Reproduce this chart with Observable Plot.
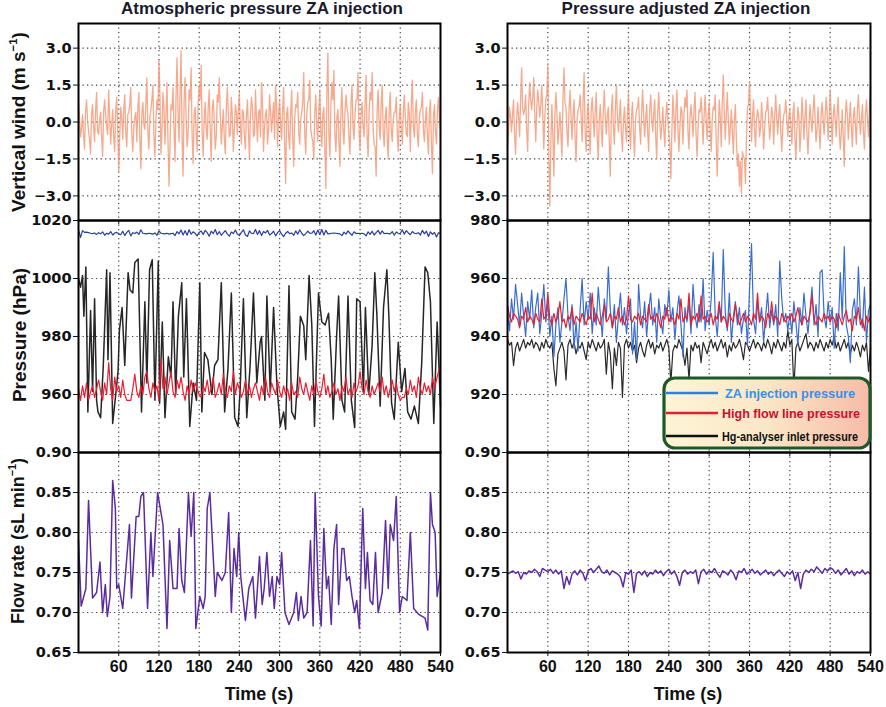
<!DOCTYPE html>
<html><head><meta charset="utf-8">
<script src="https://cdn.jsdelivr.net/npm/d3@7"></script>
<script src="https://cdn.jsdelivr.net/npm/@observablehq/plot@0.6"></script>
<style>
body{margin:0;background:#fff;}
#root{position:relative;width:886px;height:707px;background:#fff;overflow:hidden;font-family:"Liberation Sans",Arial,sans-serif;}
.title{position:absolute;top:0;font-weight:bold;font-size:17px;line-height:18px;color:#1a1a2e;white-space:nowrap;transform:translate(-50%,0);}
.ylab{position:absolute;font-weight:bold;font-size:19px;line-height:20px;color:#111;white-space:nowrap;transform:translate(-50%,-50%) rotate(-90deg);}
.ylab sup{font-size:0.6em;vertical-align:0.7em;line-height:0;}
.xlab{position:absolute;top:685px;font-weight:bold;font-size:18px;line-height:18px;color:#111;white-space:nowrap;transform:translate(-50%,0);}
</style></head>
<body><div id="root">
<div class="title" style="left:262px">Atmospheric pressure ZA injection</div>
<div class="title" style="left:686px">Pressure adjusted ZA injection</div>
<div class="ylab" style="left:19px;top:122px">Vertical wind (m s<sup>−1</sup>)</div>
<div class="ylab" style="left:20px;top:335px">Pressure (hPa)</div>
<div class="ylab" style="left:18px;top:541px;font-size:18px">Flow rate (sL min<sup>−1</sup>)</div>
<div class="xlab" style="left:259px">Time (s)</div>
<div class="xlab" style="left:688px">Time (s)</div>
</div>
<script>
// ---------- data ----------
const xTicks = [60,120,180,240,300,360,420,480,540];
const xGrid = [60,120,180,240,300,360,420,480];
const windTicks = [-3,-1.5,0,1.5,3];
const presLTicks = [960,980,1000,1020];
const presRTicks = [920,940,960,980];
const flowTicks = [0.65,0.70,0.75,0.80,0.85,0.90];

// vertical wind: samples at t = 0,3,...,540 and in-between samples at t = 1.5,4.5,...,538.5
const windLeft = [
0.8,-0.6,0.3,-1.1,0.9,-0.4,-1.3,0.7,-0.8,1.2,-0.5,0.4,-1.4,0.9,-0.2,1.3,-0.9,0.5,-1.2,1.0,
-2.0,0.6,-0.7,1.1,-1.0,0.4,1.4,-1.2,0.2,-0.8,1.2,-1.9,0.8,-0.3,1.8,-1.1,0.5,1.5,-1.4,0.9,
2.5,-1.3,1.2,-0.9,1.6,-2.6,0.7,1.4,-1.6,2.6,-0.8,2.9,-2.2,1.8,-1.0,1.3,2.2,-1.7,0.6,-1.2,
1.5,2.3,-1.4,0.8,-0.7,1.3,-1.6,0.9,-1.1,1.1,1.8,-0.9,0.5,-1.3,1.4,-0.6,1.0,-1.2,0.7,-0.5,
1.2,-0.9,0.4,-1.1,0.9,-1.5,1.0,-0.6,1.3,-0.8,0.5,1.6,-1.2,0.3,-0.9,1.1,-0.4,0.8,1.5,-1.0,
0.9,-0.7,1.4,-2.5,0.6,-1.1,1.3,-1.8,0.7,1.2,-0.9,0.4,2.0,-1.3,0.8,1.7,-0.6,-1.5,1.1,-0.8,
1.3,-1.0,0.6,-2.7,2.8,-1.4,1.6,2.1,-1.2,0.5,-1.8,1.4,-0.9,1.1,0.3,-1.3,1.5,-0.7,0.9,2.0,
-1.1,0.8,-0.6,1.9,-1.4,1.2,2.0,-0.9,-2.2,1.3,-0.7,1.5,-1.0,0.6,-1.5,1.2,-0.8,0.4,1.0,-1.2,
0.7,-0.9,1.1,-0.5,0.8,-1.2,1.7,-0.6,0.9,-1.0,0.5,1.2,-0.8,0.6,-1.3,0.9,-2.1,0.7,-0.9,1.0,
-0.3];
const windLeftMid = [
0.2,-0.3,-0.5,0.4,0.1,-0.7,0.3,-0.2,0.5,-0.4,0.1,-0.6,0.4,0.3,-0.5,0.2,-0.1,-0.6,0.5,-0.3,
-0.6,0.2,0.5,-0.4,0.3,0.7,-0.5,-0.2,0.4,0.6,-0.7,0.3,-0.1,0.8,-0.4,0.2,0.9,-0.6,0.1,0.5,
1.0,-0.4,0.6,0.3,-0.8,-0.9,0.5,-0.3,1.1,0.4,1.2,-0.7,0.8,0.2,-0.5,0.9,-0.6,0.3,-0.4,0.7,
0.9,-0.5,0.2,-0.3,0.6,-0.4,0.5,0.1,-0.6,0.8,0.4,-0.2,-0.7,0.6,0.3,-0.5,0.2,-0.3,0.4,0.6,
-0.3,0.5,-0.6,0.2,-0.4,0.3,0.6,-0.5,0.1,0.4,-0.6,0.7,-0.2,0.5,-0.3,0.4,0.2,-0.7,0.6,0.3,
-0.2,0.5,-0.9,0.3,-0.6,0.4,-0.7,0.2,0.6,-0.4,0.1,0.8,-0.5,0.3,0.9,-0.3,-0.8,0.4,-0.2,0.5,
-0.4,0.3,-1.1,1.2,-0.5,0.7,0.9,-0.6,0.2,-0.8,0.5,-0.3,0.4,0.6,-0.7,0.8,-0.2,0.3,0.9,-0.4,
0.3,-0.2,0.8,-0.6,0.4,0.9,-0.3,-1.0,0.5,-0.2,0.7,-0.4,0.2,-0.7,0.5,-0.3,0.1,0.4,-0.5,0.2,
-0.3,0.4,0.2,-0.6,0.3,0.7,-0.2,0.4,-0.5,0.2,0.6,-0.3,0.1,-0.6,0.4,-0.9,0.2,-0.4,0.5,0.1];
const windRight = [
-1.0,0.6,-0.4,0.9,-1.3,0.8,-0.6,2.2,0.3,1.1,-1.2,1.6,0.5,1.8,-0.8,1.3,0.2,1.5,-1.1,0.9,
2.3,-3.4,0.7,-2.2,1.2,-0.9,0.4,-1.4,2.2,0.6,-1.0,1.3,-0.7,0.9,-1.6,0.5,1.1,-0.8,2.0,-1.2,
0.8,-1.3,1.0,-0.6,1.2,-1.5,0.7,-1.0,1.3,-0.5,0.6,-2.2,1.1,-0.9,1.5,-0.4,0.9,-1.2,0.6,-0.8,
1.2,-1.1,0.8,-1.4,0.5,1.0,-0.9,1.3,-0.6,0.7,-1.2,1.1,-0.4,0.9,-1.5,1.2,-0.7,0.6,-1.0,0.8,
-0.5,-2.3,1.1,-0.8,1.3,-1.2,0.6,-0.9,1.0,1.3,-1.1,0.7,-0.6,1.2,-1.4,0.5,1.0,-0.9,1.1,-0.7,
0.8,-1.2,0.6,1.1,-2.2,0.9,-1.0,1.9,-0.7,1.2,-0.9,0.5,-1.3,0.7,-1.8,-2.6,-2.9,-1.4,-2.5,0.6,
1.6,-0.8,0.9,-1.0,0.5,-0.6,0.8,-1.1,0.4,1.0,-0.7,0.6,-0.9,1.1,-0.5,0.7,-1.2,0.3,0.9,-0.6,
0.5,-0.9,0.8,-1.5,0.6,-1.2,1.0,-0.7,0.9,-1.3,0.7,-0.4,1.1,-0.8,0.6,-1.1,0.8,-0.5,1.0,-0.7,
1.3,-0.9,0.7,-0.6,1.0,-1.1,0.5,-1.8,0.9,-0.7,0.8,-1.0,0.6,-0.9,1.1,-0.5,0.7,-1.1,0.9,-0.6,
1.4];
const windRightMid = [
-0.4,0.2,0.3,-0.5,0.1,0.2,0.9,0.6,0.5,-0.3,0.7,0.9,1.0,0.4,0.6,0.8,0.7,0.3,0.2,1.1,
-1.2,-0.8,-0.6,0.3,0.4,-0.3,-0.5,0.9,0.8,-0.4,0.5,0.2,0.3,-0.6,0.1,0.6,0.2,0.9,-0.4,0.3,
-0.4,0.5,0.2,0.4,-0.6,0.1,-0.3,0.5,0.2,0.3,-0.9,0.4,-0.2,0.6,0.3,0.2,-0.5,0.1,-0.2,0.4,
-0.3,0.2,-0.5,0.1,0.6,-0.2,0.4,0.3,0.1,-0.4,0.5,0.2,0.3,-0.6,0.4,0.1,-0.2,-0.3,0.2,0.1,
-0.9,-0.4,0.3,0.5,-0.3,-0.2,0.4,0.3,0.6,-0.4,0.2,0.1,0.5,-0.5,-0.2,0.4,0.2,0.3,0.1,0.2,
-0.3,0.1,0.5,-0.8,-0.4,0.2,0.8,0.4,0.3,0.1,-0.2,-0.4,0.1,-0.7,-1.3,-1.6,-1.2,-1.5,-0.6,0.7,
0.4,0.2,-0.3,0.1,0.2,-0.2,0.1,-0.3,0.5,0.1,-0.1,0.3,0.2,0.1,0.3,-0.4,-0.2,0.4,0.1,0.2,
-0.2,0.3,-0.6,-0.3,0.2,-0.4,0.3,0.2,-0.5,-0.2,0.1,0.4,0.2,-0.3,-0.2,0.3,0.1,0.2,0.4,0.1,
0.3,0.2,0.1,0.4,-0.3,-0.5,-0.6,0.2,0.3,0.1,-0.2,0.2,-0.1,0.5,0.2,0.1,-0.4,0.3,0.1,0.6];

// left pressure (hPa), 3 s sampling
const zaLeft = [
1016.8,1014.2,1016.5,1015.9,1016.0,1015.8,1015.6,1015.5,1015.7,1015.2,1015.8,1015.4,1016.1,1014.9,1015.6,1015.3,1016.2,1015.0,1015.7,1015.9,
1015.4,1015.1,1016.3,1014.8,1015.9,1016.6,1014.7,1015.8,1015.5,1016.0,1015.2,1016.8,1015.6,1015.5,1015.4,1015.6,1015.5,1015.3,1015.7,1014.9,
1016.4,1015.6,1015.5,1015.4,1015.6,1015.3,1015.5,1015.6,1014.8,1016.2,1015.4,1016.7,1015.0,1016.5,1014.9,1016.8,1015.3,1016.1,1015.6,1014.7,
1015.9,1016.4,1015.2,1016.6,1015.8,1014.6,1016.3,1015.5,1016.9,1015.1,1016.2,1014.9,1015.7,1016.5,1015.4,1014.6,1016.0,1015.5,1016.7,1015.3,
1014.8,1015.9,1016.8,1015.1,1014.5,1016.4,1015.6,1015.5,1016.9,1015.2,1016.5,1014.8,1016.2,1015.7,1016.6,1015.0,1015.5,1016.3,1014.7,1015.8,
1016.5,1015.3,1014.4,1015.6,1016.2,1015.5,1015.7,1014.9,1016.4,1015.3,1016.8,1015.6,1014.8,1015.5,1016.3,1015.6,1015.6,1016.5,1015.0,1016.7,
1015.2,1016.9,1015.0,1016.6,1015.4,1015.5,1015.6,1015.7,1015.6,1015.5,1015.4,1014.8,1016.0,1015.3,1016.4,1015.6,1014.9,1016.1,1015.5,1015.6,
1015.5,1015.6,1015.4,1014.7,1016.1,1015.2,1016.3,1015.0,1015.8,1016.6,1015.3,1016.4,1015.5,1015.6,1015.5,1015.4,1016.2,1014.9,1016.0,1015.6,
1015.5,1016.8,1015.3,1016.5,1015.7,1015.1,1016.2,1015.6,1015.5,1015.8,1015.0,1016.6,1015.4,1016.3,1014.5,1016.1,1015.2,1015.9,1014.3,1015.8,
1015.5];
const highLeft = [
962,958,963,959,964,958,961,963,959,962,965,961,958,964,960,971,962,958,966,961,
963,959,965,960,958,958,958,962,967,961,959,963,960,966,968,962,959,964,961,963,
958,972,962,966,960,964,968,961,959,965,962,966,961,958,963,960,965,961,964,962,
960,959,963,961,965,960,962,966,959,961,964,960,967,962,959,963,961,968,960,964,
962,959,961,965,960,963,959,962,964,961,958,963,960,966,961,959,964,962,960,965,
961,959,963,960,962,958,964,960,961,959,966,962,960,964,961,958,963,960,965,961,
959,962,967,960,963,959,961,964,960,962,958,963,961,966,960,962,959,964,961,963,
968,962,960,965,961,959,963,960,962,964,961,966,960,963,959,962,965,961,964,960,
958,959,959,962,960,965,961,963,959,966,962,960,964,961,963,960,966,962,965,968,
970];
const hgLeftT = [0,3,6,8,11,14,18,21,24,27,29,33,37,42,44,47,51,56,59,61,65,69,74,77,81,84,89,94,99,102,
106,110,114,119,121,125,129,134,138,141,145,149,154,157,161,166,171,176,181,184,188,193,199,203,208,213,218,223,228,233,
238,241,246,251,256,261,266,271,273,278,281,286,291,296,301,306,309,314,318,323,327,331,336,339,344,348,352,358,363,368,
373,377,380,385,388,393,397,402,407,412,415,420,425,428,433,438,442,445,450,455,460,463,467,471,477,482,487,491,496,501,
507,512,517,521,525,530,535,540];
const hgLeftV = [1000,997,1001,987,1004,954,989,961,993,958,954,952,970,1003,972,1002,950,961,968,982,990,970,1002,996,995,1005.5,1006.7,954,992,964,
1003,1006.5,958,1006,957,985,952,973,966,992,960,987,998.5,966,993,949,964,958,998.5,954,974.5,972,960,970,972,998.5,954,969,995,952,
949,961,993,952,970,995,964,978,980,958,994,961,990,963,949,954,948,997.5,954,951.5,966,987,983.7,972,1001,984,949,995,985,984,
988,972,951.5,980,994,958,954,994,958,948.6,993,992,961,990,960,977,1002,988,956,990,1003,987,957,951.5,978,961,969,954,951.5,956,
950,971,1004,1002,992,950,985,956];

// right pressure (hPa), 3 s sampling
const zaRight = [
949,942,953,946,958,951,944,955,947,940,952,946,956,943,950,955,941,948,958,945,
952,940,947,933,944,950,938,945,953,960,947,942,951,936,945,935,949,960,944,952,
946,955,941,950,944,957,948,940,953,946,964,949,943,951,938,947,955,944,950,941,
948,953,934,945,932,958,947,943,952,940,949,955,944,950,938,953,946,941,951,947,
956,945,950,939,948,954,944,933,950,945,952,941,958,947,943,951,945,960,942,949,
944,953,969,947,940,951,945,970,948,942,955,938,947,952,944,950,941,946,949,937,
956,972,946,941,952,945,950,938,947,955,943,949,944,951,940,966,953,945,948,942,
948,941,952,945,937,950,944,955,947,941,949,957,944,951,940,962,963,947,943,952,
945,950,936,948,942,962,946,971,944,940,931,949,953,944,964,947,943,957,938,949,
951];
const highRight = [
951,947,945,948,947,946,943,947,946,950,945,947,946,944,948,946,945,953,946,947,
955,946,944,948,945,947,952,945,946,943,947,946,950,944,947,946,945,948,946,944,
947,946,955,945,948,946,944,947,951,945,946,948,943,947,946,950,945,947,944,946,
954,946,945,947,946,948,944,947,946,945,951,946,947,945,948,946,943,947,946,950,
945,947,946,944,948,946,953,945,947,946,955,944,947,946,948,945,954,946,947,945,
946,948,944,947,946,952,945,947,946,943,948,946,945,951,947,944,946,948,945,947,
946,944,948,946,955,945,947,946,943,948,946,952,945,947,946,944,948,946,945,947,
946,948,945,947,950,946,944,947,946,945,948,954,946,944,947,946,945,948,946,947,
945,947,946,943,948,946,944,947,949,945,946,942,947,946,950,944,946,942,947,945,
947];
const hgRight = [
939,937,938,930,936,938,935,937,939,936,938,937,939,936,938,937,935,938,936,939,
937,936,938,929,923,934,936,938,935,925,937,939,936,938,934,937,936,938,935,932,
938,936,939,937,935,938,936,937,939,927,938,934,922,936,930,938,936,919,937,939,
936,938,935,937,931,936,938,935,933,937,939,936,938,934,937,936,938,935,937,939,
936,924,935,937,936,939,937,935,930,936,925,937,935,938,936,937,931,938,936,934,
937,939,936,938,935,937,939,936,938,933,937,935,938,936,937,939,936,932,938,937,
935,937,939,936,938,937,935,938,936,939,937,934,938,936,939,937,935,938,936,942,
937,939,922,936,938,935,937,939,941,936,938,937,935,938,936,939,937,935,938,936,
939,937,940,936,938,935,937,939,936,938,934,937,935,938,936,933,937,935,938,928,
936];

// flow rate (sL min-1)
const flowLeftT = [0,4,11,15,21,27,32,36,40,43,47,51,55,57,60,66,76,79,86,90,93,97,103,108,111,118,126,132,136,141,
147,150,154,158,164,168,172,175,181,186,189,192,196,204,207,214,219,224,228,232,236,239,242,249,254,260,264,270,274,277,
281,285,289,292,296,300,303,308,314,321,325,328,332,336,341,346,350,353,358,362,366,370,373,377,381,385,388,393,396,400,
404,408,412,415,419,424,428,431,435,439,443,447,453,458,462,465,470,474,479,483,490,495,500,507,517,521,525,528,532,535,540];
const flowLeftV = [0.79,0.708,0.73,0.84,0.718,0.725,0.763,0.70,0.735,0.695,0.72,0.865,0.83,0.73,0.735,0.705,0.81,0.718,0.82,0.82,
0.845,0.85,0.705,0.80,0.745,0.85,0.81,0.68,0.79,0.73,0.73,0.805,0.74,0.725,0.85,0.795,0.85,0.68,0.72,0.705,
0.72,0.83,0.85,0.72,0.75,0.74,0.75,0.825,0.70,0.78,0.745,0.80,0.745,0.69,0.73,0.745,0.693,0.77,0.71,0.73,
0.775,0.72,0.745,0.705,0.745,0.735,0.775,0.70,0.685,0.70,0.725,0.69,0.72,0.693,0.70,0.79,0.683,0.85,0.72,0.683,
0.805,0.73,0.745,0.685,0.78,0.81,0.71,0.78,0.78,0.74,0.745,0.72,0.70,0.715,0.68,0.83,0.73,0.775,0.715,0.71,
0.775,0.70,0.725,0.815,0.73,0.81,0.79,0.845,0.70,0.72,0.715,0.80,0.705,0.698,0.693,0.678,0.85,0.81,0.80,0.72,0.75];
// right flow, 4 s sampling
const flowRight = [
0.748,0.750,0.752,0.749,0.751,0.742,0.750,0.748,0.752,0.750,
0.754,0.751,0.745,0.755,0.753,0.751,0.754,0.749,0.753,0.748,
0.752,0.730,0.745,0.735,0.748,0.752,0.747,0.753,0.749,0.740,
0.752,0.755,0.750,0.754,0.758,0.751,0.749,0.753,0.747,0.752,
0.750,0.748,0.744,0.732,0.750,0.748,0.753,0.725,0.749,0.751,
0.747,0.752,0.745,0.750,0.748,0.753,0.749,0.752,0.746,0.751,
0.754,0.748,0.752,0.745,0.734,0.750,0.753,0.748,0.751,0.749,
0.753,0.736,0.751,0.754,0.748,0.752,0.750,0.755,0.749,0.744,
0.752,0.750,0.747,0.753,0.749,0.741,0.752,0.750,0.755,0.748,
0.751,0.754,0.749,0.752,0.747,0.750,0.753,0.748,0.751,0.746,
0.750,0.753,0.749,0.745,0.751,0.748,0.752,0.740,0.750,0.730,
0.748,0.753,0.750,0.754,0.751,0.757,0.753,0.749,0.755,0.752,
0.756,0.754,0.749,0.753,0.747,0.751,0.755,0.748,0.752,0.746,
0.751,0.749,0.753,0.748,0.751,0.748];

const legendItems = ["ZA injection pressure","High flow line pressure","Hg-analyser inlet pressure"];
const legendColors = ["#2f7fe0","#e41e2f","#111111"];
const legendTextColors = ["#3a8fe8","#c8102e","#111111"];

// ---------- helpers ----------
const root = document.getElementById("root");
function stepSeries(vals){ const s = 540/(vals.length-1); return vals.map((v,i)=>({t:i*s, v})); }
function pairSeries(ts, vs){ return ts.map((t,i)=>({t, v:vs[i]})); }
function windSeries(main, mid){
  const out = [];
  main.forEach((v,i) => { out.push({t:i*3, v}); if (i < mid.length) out.push({t:i*3+1.5, v:mid[i]}); });
  return out;
}
const gridStyle = {stroke:"#444", strokeOpacity:1, strokeWidth:1.2, strokeDasharray:"1.3,3.2"};

function panel(o){
  const marks = [
    Plot.gridX(xGrid, gridStyle),
    Plot.gridY(o.yGrid, gridStyle),
    ...o.lines.map(l => Plot.line(l.data, {x:"t", y:"v", stroke:l.color, strokeWidth:l.width, strokeOpacity:l.opacity ?? 1})),
    Plot.frame({stroke:"#000", strokeWidth:2}),
    Plot.axisY(o.yTicks, {label:null, tickSize:5, tickPadding:2, tickFormat:o.fmt, fontSize:14.5, fontWeight:"bold", fontFamily:"DejaVu Sans"}),
    Plot.axisX(xTicks, {label:null, tickSize:4, tickPadding:4, tickFormat: o.xLabels ? (d => String(d)) : (() => ""), fontSize:16, fontWeight:"bold", fontFamily:"Liberation Sans"})
  ];
  const svg = Plot.plot({
    width:o.w, height:o.h,
    marginLeft:o.mL, marginRight:o.mR, marginTop:o.mT, marginBottom:o.mB,
    x:{domain:[0,540], axis:null, label:null},
    y:{domain:o.yDomain, axis:null, label:null},
    style:{background:"transparent", overflow:"visible", color:"#111", fontFamily:"DejaVu Sans", fontWeight:"bold"},
    marks
  });
  svg.style.position = "absolute";
  svg.style.left = o.left + "px";
  svg.style.top = o.top + "px";
  root.appendChild(svg);
}

const L = {left:0, w:450, mL:78, mR:10};
const R = {left:445, w:441, mL:62, mR:16};
const ROWS = {
  top:{top:0, h:222, mT:23, mB:2},
  mid:{top:210, h:250, mT:10, mB:8},
  bot:{top:440, h:267, mT:12, mB:55}
};
const f1 = d3.format(".1f"), f0 = d3.format("d"), f2 = d3.format(".2f");
const windColor = "#f4946f";

panel({...L, ...ROWS.top, yDomain:[-4,4], yTicks:windTicks, yGrid:windTicks, fmt:f1,
  lines:[{data:windSeries(windLeft, windLeftMid), color:windColor, width:1.3, opacity:0.8}]});
panel({...R, ...ROWS.top, yDomain:[-4,4], yTicks:windTicks, yGrid:windTicks, fmt:f1,
  lines:[{data:windSeries(windRight, windRightMid), color:windColor, width:1.3, opacity:0.8}]});

panel({...L, ...ROWS.mid, yDomain:[940,1020], yTicks:presLTicks, yGrid:[960,980,1000], fmt:f0,
  lines:[
    {data:stepSeries(zaLeft), color:"#2b3d9b", width:1.2},
    {data:pairSeries(hgLeftT, hgLeftV), color:"#262626", width:1.5},
    {data:stepSeries(highLeft), color:"#ee1c30", width:1.2}
  ]});
panel({...R, ...ROWS.mid, yDomain:[900,980], yTicks:presRTicks, yGrid:[920,940,960], fmt:f0,
  lines:[
    {data:stepSeries(hgRight), color:"#2a2a2a", width:1.2},
    {data:stepSeries(zaRight), color:"#3a6cd0", width:1.2},
    {data:stepSeries(highRight), color:"#e8202e", width:1.2}
  ]});

panel({...L, ...ROWS.bot, yDomain:[0.65,0.90], yTicks:flowTicks, yGrid:[0.70,0.75,0.80,0.85], fmt:f2, xLabels:true,
  lines:[{data:pairSeries(flowLeftT, flowLeftV), color:"#5a2ca0", width:1.5}]});
panel({...R, ...ROWS.bot, yDomain:[0.65,0.90], yTicks:flowTicks, yGrid:[0.70,0.75,0.80,0.85], fmt:f2, xLabels:true,
  lines:[{data:stepSeries(flowRight), color:"#5a2ca0", width:1.5}]});

// ---------- legend ----------
const NS = "http://www.w3.org/2000/svg";
const lg = document.createElementNS(NS, "svg");
lg.setAttribute("width", 224); lg.setAttribute("height", 76);
lg.style.position = "absolute"; lg.style.left = "661px"; lg.style.top = "375px";
lg.style.overflow = "visible";
lg.innerHTML = `<defs><linearGradient id="lgGrad" x1="0" x2="1" y1="0" y2="0">
<stop offset="0" stop-color="#fdf5d6"/><stop offset="0.5" stop-color="#fbe6c6"/><stop offset="1" stop-color="#f6bca8"/></linearGradient></defs>
<rect x="3" y="3" width="206" height="70" rx="11" ry="11" fill="url(#lgGrad)" stroke="#1d5a2a" stroke-width="3.2"/>`;
const rowsY = [18, 38, 61];
const txtX = [64, 61, 61];
const txtSize = [13.5, 13.5, 12];
const txtLen = [130, 138, 136];
legendItems.forEach((name, i) => {
  const ln = document.createElementNS(NS, "line");
  ln.setAttribute("x1", 5); ln.setAttribute("x2", 57);
  ln.setAttribute("y1", rowsY[i]); ln.setAttribute("y2", rowsY[i]);
  ln.setAttribute("stroke", legendColors[i]); ln.setAttribute("stroke-width", 2.6);
  lg.appendChild(ln);
  const tx = document.createElementNS(NS, "text");
  tx.setAttribute("x", txtX[i]); tx.setAttribute("y", rowsY[i] + 5);
  tx.setAttribute("fill", legendTextColors[i]);
  tx.setAttribute("font-family", "Liberation Sans, Arial, sans-serif");
  tx.setAttribute("font-weight", "bold"); tx.setAttribute("font-size", txtSize[i]);
  tx.setAttribute("textLength", txtLen[i]); tx.setAttribute("lengthAdjust", "spacingAndGlyphs");
  tx.textContent = name;
  lg.appendChild(tx);
});
root.appendChild(lg);
</script>
</body></html>
